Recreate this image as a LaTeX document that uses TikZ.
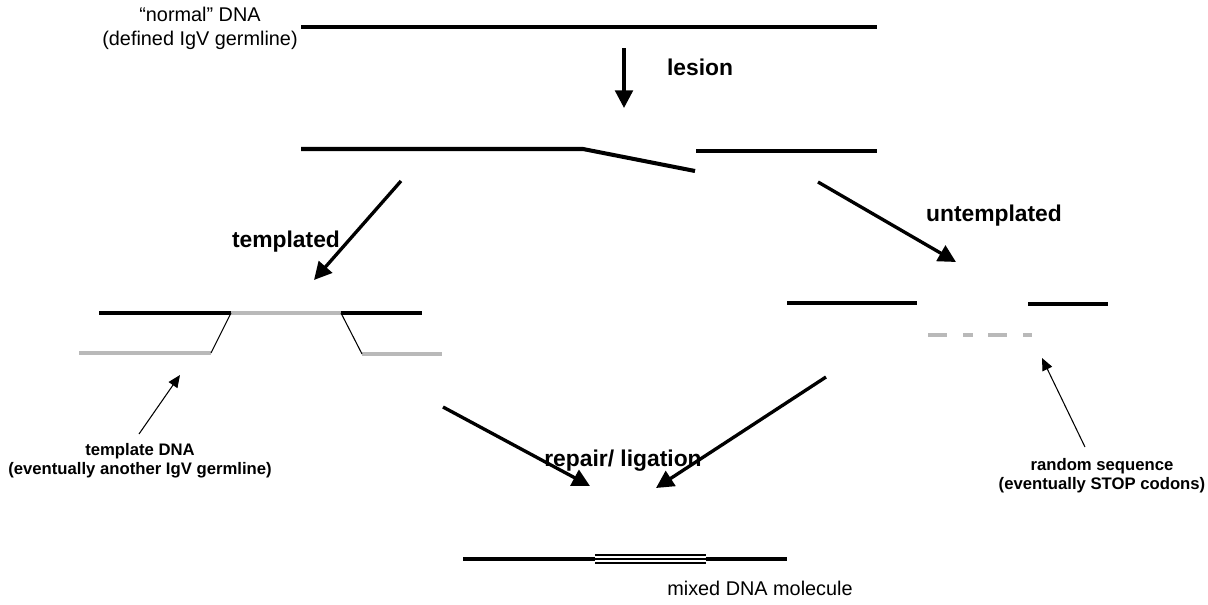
\documentclass[tikz,border=0pt]{standalone}
\usepackage{fontspec}
\setmainfont{Liberation Sans}
\usetikzlibrary{arrows.meta}
\tikzset{
  strand/.style={line width=2.3pt},
  tmpl/.style={line width=2.3pt,gray!55},
  link/.style={line width=0.6pt},
  bigarrow/.style={line width=1.9pt,-{Triangle[length=10pt,width=10pt]}},
  thinarrow/.style={line width=0.6pt,-{Triangle[length=7pt,width=6pt]}},
  biglabel/.style={inner sep=0pt,font=\fontsize{13}{16}\selectfont\bfseries},
  note/.style={inner sep=0pt,align=center,font=\fontsize{9.5}{11}\selectfont\bfseries},
  plain/.style={inner sep=0pt,align=center,font=\fontsize{11.3}{13.6}\selectfont}
}
\begin{document}
\begin{tikzpicture}[x=0.02cm,y=-0.02cm]
      \useasboundingbox (0,0) rectangle (1208,605);
      \draw
        (200,28) node[plain] (normal){``normal'' DNA\\(defined IgV germline)}
        (700,67) node[biglabel] (lesion){lesion}
        (286,242) node[biglabel] (templated){templated}
        (994,216) node[biglabel] (untemplated){untemplated}
        (623,461) node[biglabel] (repair){repair/ ligation}
        (140,461) node[note] (tdna){template DNA\\(eventually another IgV germline)}
        (1102,476) node[note] (rseq){random sequence\\(eventually STOP codons)}
        (760,588) node[plain] (mixed){mixed DNA molecule};
      % arrow ends
      \coordinate (a1) at (624,48);   \coordinate (b1) at (624,108);
      \coordinate (a2) at (401,181);  \coordinate (b2) at (314,280);
      \coordinate (a3) at (818,182);  \coordinate (b3) at (956,262);
      \coordinate (a4) at (443,407);  \coordinate (b4) at (590,486);
      \coordinate (a5) at (826,377);  \coordinate (b5) at (656,488);
      \coordinate (a6) at (139,434);  \coordinate (b6) at (180,375);
      \coordinate (a7) at (1085,447); \coordinate (b7) at (1042,358);
      \begin{scope}[strand]
        \draw (301,27) -- (877,27);
        \draw (301,149) -- (583,149) -- (695,171);
        \draw (696,151) -- (877,151);
        \draw (99,313) -- (231,313);
        \draw (341,313) -- (422,313);
        \draw (787,303) -- (917,303);
        \draw (1028,304) -- (1108,304);
        \draw (463,559) -- (595,559);
        \draw (706,559) -- (787,559);
      \end{scope}
      \begin{scope}[tmpl]
        \draw (231,313) -- (341,313);
        \draw (79,353) -- (211,353);
        \draw (362,354) -- (442,354);
        \draw (928,335) -- (947,335);
        \draw (963,335) -- (973,335);
        \draw (988,335) -- (1007,335);
        \draw (1023,335) -- (1032,335);
      \end{scope}
      \begin{scope}[link]
        \draw (211,353) -- (231,313);
        \draw (341,313) -- (362,354);
        \draw (595,555) -- (706,555);
        \draw (595,559) -- (706,559);
        \draw (595,563) -- (706,563);
      \end{scope}
      \begin{scope}[bigarrow]
        \draw (a1) to (b1);
        \draw (a2) to (b2);
        \draw (a3) to (b3);
        \draw (a4) to (b4);
        \draw (a5) to (b5);
      \end{scope}
      \begin{scope}[thinarrow]
        \draw (a6) to (b6);
        \draw (a7) to (b7);
      \end{scope}
    \end{tikzpicture}
\end{document}
